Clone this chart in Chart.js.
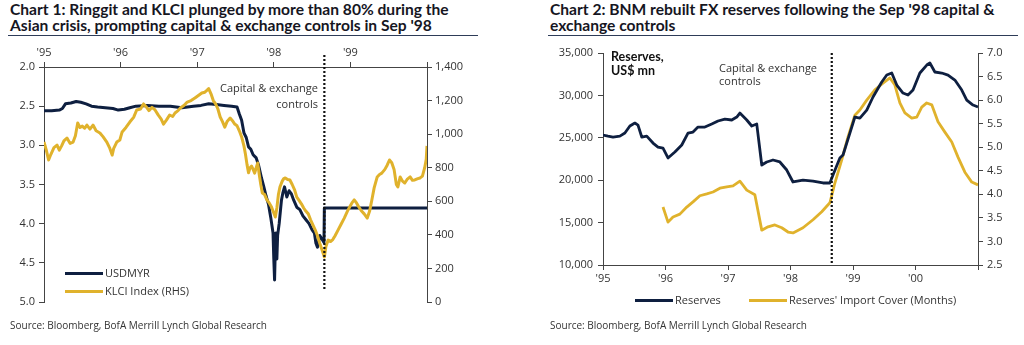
<!DOCTYPE html>
<html>
<head>
<meta charset="utf-8">
<script src="https://cdn.jsdelivr.net/npm/chart.js@4/dist/chart.umd.min.js"></script>
<style>
  body { margin: 0; background: #fff; width: 1024px; height: 345px; position: relative; overflow: hidden; font-family: 'Open Sans', sans-serif; color: #333; }
  .abs { position: absolute; white-space: nowrap; }
  .title { font-family: Lato, sans-serif; font-weight: bold; font-size: 15.6px; line-height: 15.5px; color: #16161f; }
  .rule { position: absolute; height: 1px; background: #2e3c58; }
  .note { font-size: 11px; line-height: 14px; color: #333; }
  .source { font-size: 10px; color: #333; }
  .swatch { position: absolute; height: 3px; }
  canvas { position: absolute; }
</style>
</head>
<body>
<div class="abs title" style="left:10px; top:2px;">Chart 1: Ringgit and KLCI plunged by more than 80% during the<br>Asian crisis, prompting capital &amp; exchange controls in Sep '98</div>
<div class="rule" style="left:8px; top:35px; width:470px;"></div>
<div class="abs title" style="left:550px; top:2px;">Chart 2: BNM rebuilt FX reserves following the Sep '98 capital &amp;<br>exchange controls</div>
<div class="rule" style="left:548px; top:35px; width:470px;"></div>

<div style="position:absolute; left:0; top:36px; width:490px; height:280px;"><canvas id="chart1"></canvas></div>
<div style="position:absolute; left:512px; top:36px; width:512px; height:280px;"><canvas id="chart2"></canvas></div>

<!-- chart 1 annotations and legend -->
<div class="abs note" style="left:200px; width:118px; top:80px; text-align:right; line-height:16px;">Capital &amp; exchange<br>controls</div>
<div class="swatch" style="left:65px; top:272px; width:38px; background:#0e1f40;"></div>
<div class="abs note" style="left:105px; top:266px;">USDMYR</div>
<div class="swatch" style="left:65px; top:290px; width:38px; background:#e0b22c;"></div>
<div class="abs note" style="left:105px; top:284px;">KLCI Index (RHS)</div>
<div class="abs source" style="left:10px; top:318px;">Source: Bloomberg, BofA Merrill Lynch Global Research</div>

<!-- chart 2 annotations and legend -->
<div class="abs" style="left:611px; top:50px; font-family:Lato, sans-serif; font-weight:bold; font-size:12.5px; line-height:14px; color:#111;">Reserves,<br>US$ mn</div>
<div class="abs note" style="left:719px; top:61px; line-height:13px;">Capital &amp; exchange<br>controls</div>
<div class="swatch" style="left:635px; top:299px; width:38px; background:#0e1f40;"></div>
<div class="abs note" style="left:675px; top:293px;">Reserves</div>
<div class="swatch" style="left:749px; top:299px; width:38px; background:#e0b22c;"></div>
<div class="abs note" style="left:789px; top:293px;">Reserves' Import Cover (Months)</div>
<div class="abs source" style="left:550px; top:318px;">Source: Bloomberg, BofA Merrill Lynch Global Research</div>

<script>
// Chart 1 data (years since Jan 1995)
const klciT = [0.00, 0.03, 0.06, 0.09, 0.13, 0.17, 0.20, 0.23, 0.26, 0.30, 0.34, 0.38, 0.41, 0.44, 0.47, 0.50, 0.53, 0.56, 0.60, 0.64, 0.68, 0.73, 0.77, 0.82, 0.86, 0.89, 0.91, 0.95, 0.99, 1.02, 1.07, 1.12, 1.17, 1.21, 1.26, 1.30, 1.33, 1.37, 1.41, 1.45, 1.49, 1.53, 1.56, 1.60, 1.64, 1.68, 1.71, 1.75, 1.78, 1.83, 1.87, 1.92, 1.97, 2.02, 2.06, 2.10, 2.13, 2.15, 2.18, 2.21, 2.24, 2.27, 2.30, 2.33, 2.36, 2.39, 2.43, 2.46, 2.49, 2.52, 2.55, 2.58, 2.61, 2.63, 2.65, 2.67, 2.69, 2.71, 2.73, 2.75, 2.77, 2.79, 2.81, 2.83, 2.85, 2.88, 2.91, 2.94, 2.97, 3.00, 3.02, 3.04, 3.06, 3.08, 3.11, 3.13, 3.15, 3.18, 3.21, 3.24, 3.27, 3.30, 3.33, 3.36, 3.39, 3.42, 3.45, 3.48, 3.51, 3.54, 3.57, 3.60, 3.63, 3.66, 3.68, 3.71, 3.74, 3.77, 3.80, 3.84, 3.88, 3.92, 3.96, 3.99, 4.02, 4.05, 4.08, 4.11, 4.14, 4.18, 4.22, 4.25, 4.28, 4.31, 4.35, 4.38, 4.41, 4.45, 4.48, 4.51, 4.54, 4.57, 4.60, 4.62, 4.65, 4.68, 4.71, 4.74, 4.78, 4.81, 4.84, 4.88, 4.91, 4.94, 4.97, 4.99, 5.00];
const klciValues = [953, 905, 846, 880, 920, 935, 905, 930, 960, 977, 945, 953, 990, 1066, 1040, 1048, 1035, 1054, 1030, 1054, 1020, 1007, 985, 953, 915, 875, 915, 953, 965, 1013, 1040, 1072, 1100, 1144, 1150, 1180, 1165, 1140, 1160, 1144, 1115, 1090, 1060, 1085, 1114, 1105, 1126, 1140, 1156, 1172, 1191, 1200, 1215, 1232, 1245, 1250, 1262, 1271, 1240, 1200, 1180, 1150, 1102, 1075, 1042, 1075, 1096, 1080, 1060, 1050, 1020, 983, 930, 880, 820, 770, 800, 810, 790, 768, 800, 828, 760, 700, 649, 640, 608, 590, 566, 530, 506, 560, 640, 685, 720, 735, 739, 730, 727, 700, 670, 625, 605, 585, 560, 540, 525, 490, 460, 430, 395, 350, 310, 268, 330, 369, 360, 372, 395, 430, 465, 500, 540, 566, 590, 608, 590, 566, 545, 525, 500, 540, 608, 680, 745, 760, 768, 790, 815, 846, 830, 790, 700, 685, 745, 720, 709, 730, 745, 725, 727, 735, 739, 750, 800, 850, 930];
const usdmyrT = [0.00, 0.10, 0.20, 0.24, 0.28, 0.35, 0.42, 0.48, 0.55, 0.62, 0.70, 0.80, 0.90, 0.97, 1.05, 1.12, 1.20, 1.35, 1.50, 1.65, 1.80, 1.95, 2.05, 2.15, 2.25, 2.35, 2.45, 2.52, 2.55, 2.58, 2.61, 2.64, 2.67, 2.70, 2.73, 2.77, 2.80, 2.84, 2.87, 2.90, 2.93, 2.96, 2.99, 3.00, 3.01, 3.02, 3.03, 3.04, 3.05, 3.07, 3.10, 3.12, 3.14, 3.17, 3.20, 3.23, 3.26, 3.30, 3.34, 3.38, 3.42, 3.46, 3.50, 3.53, 3.55, 3.57, 3.60, 3.63, 3.655, 3.66, 5.00];
const usdmyrValues = [2.56, 2.56, 2.55, 2.53, 2.47, 2.46, 2.44, 2.45, 2.47, 2.50, 2.51, 2.52, 2.53, 2.55, 2.54, 2.52, 2.50, 2.49, 2.50, 2.50, 2.52, 2.50, 2.49, 2.47, 2.48, 2.49, 2.50, 2.51, 2.60, 2.68, 2.84, 2.90, 3.02, 3.05, 3.12, 3.16, 3.25, 3.42, 3.53, 3.65, 3.75, 3.92, 4.12, 4.45, 4.72, 4.30, 4.12, 4.45, 4.15, 4.00, 3.70, 3.60, 3.53, 3.66, 3.58, 3.62, 3.70, 3.79, 3.82, 3.90, 3.95, 4.00, 4.08, 4.12, 4.25, 4.30, 4.15, 4.20, 4.24, 3.80, 3.80];
const usdmyrTicks = [2.0, 2.5, 3.0, 3.5, 4.0, 4.5, 5.0];
const klciTicks = [0, 200, 400, 600, 800, 1000, 1200, 1400];
const yearLabels1 = ["'95", "'96", "'97", "'98", "'99", ""];

// Chart 2 data (years since Jan 1995)
const reservesT = [0.00, 0.08, 0.16, 0.27, 0.35, 0.43, 0.51, 0.56, 0.62, 0.70, 0.80, 0.88, 0.96, 1.04, 1.15, 1.26, 1.36, 1.44, 1.52, 1.63, 1.74, 1.84, 1.95, 2.06, 2.14, 2.19, 2.30, 2.38, 2.46, 2.54, 2.62, 2.72, 2.83, 2.94, 3.04, 3.20, 3.36, 3.52, 3.63, 3.68, 3.79, 3.84, 3.95, 4.03, 4.11, 4.22, 4.32, 4.46, 4.54, 4.62, 4.70, 4.80, 4.88, 4.96, 5.07, 5.18, 5.23, 5.31, 5.42, 5.52, 5.63, 5.74, 5.82, 5.92, 6.00];
const reservesValues = [25330, 25200, 25090, 25200, 25560, 26390, 26740, 26500, 25090, 25200, 24380, 23910, 23790, 22620, 23320, 24150, 25560, 25680, 26270, 26270, 26620, 26980, 27210, 27100, 27450, 27920, 27100, 26390, 26620, 21790, 22150, 22380, 22150, 21200, 19790, 20020, 19900, 19670, 19670, 20610, 22620, 22970, 25560, 27450, 27330, 28270, 29810, 31580, 32400, 32640, 31220, 30280, 30040, 30630, 32640, 33580, 33820, 32760, 32640, 32400, 31810, 30630, 29450, 28860, 28630];
const coverT = [0.96, 1.04, 1.12, 1.23, 1.34, 1.44, 1.55, 1.66, 1.76, 1.87, 1.98, 2.08, 2.19, 2.30, 2.43, 2.54, 2.64, 2.75, 2.86, 2.96, 3.04, 3.20, 3.36, 3.50, 3.63, 3.71, 3.82, 3.92, 4.03, 4.11, 4.22, 4.35, 4.48, 4.59, 4.67, 4.75, 4.83, 4.94, 5.02, 5.10, 5.18, 5.26, 5.36, 5.47, 5.58, 5.68, 5.79, 5.90, 6.00];
const coverValues = [3.73, 3.41, 3.52, 3.58, 3.73, 3.84, 3.97, 4.01, 4.05, 4.13, 4.16, 4.18, 4.28, 4.09, 3.99, 3.24, 3.31, 3.35, 3.29, 3.20, 3.18, 3.29, 3.46, 3.63, 3.82, 4.24, 4.73, 5.22, 5.68, 5.79, 6.00, 6.22, 6.36, 6.47, 6.32, 5.94, 5.73, 5.62, 5.64, 5.85, 5.94, 5.90, 5.54, 5.32, 5.11, 4.79, 4.47, 4.26, 4.20];
const yearLabels2 = ["'95", "'96", "'97", "'98", "'99", "'00", ""];

const controlsDate = 1998.66;
const navy = '#0e1f40';
const gold = '#e0b22c';
const axisColor = '#444';

Chart.defaults.font.family = "'Open Sans', sans-serif";
Chart.defaults.font.size = 11;
Chart.defaults.color = '#333';
Chart.defaults.animation = false;

function toPoints(ts, vals) {
    return ts.map((t, i) => ({ x: 1995 + t, y: vals[i] }));
}

// dotted vertical line at the capital controls date
const controlsLine = {
    id: 'controlsLine',
    afterDatasetsDraw(chart, args, opts) {
        const x = chart.scales.x.getPixelForValue(controlsDate);
        const ctx = chart.ctx;
        ctx.save();
        ctx.strokeStyle = '#111';
        ctx.lineWidth = 2.2;
        ctx.setLineDash([2, 2]);
        ctx.beginPath();
        ctx.moveTo(x, chart.chartArea.top - opts.above);
        ctx.lineTo(x, chart.chartArea.bottom - opts.short);
        ctx.stroke();
        ctx.restore();
    }
};

function axisStyle(extra) {
    return Object.assign({
        grid: { drawOnChartArea: false, drawTicks: true, tickLength: 5, color: axisColor },
        border: { display: true, color: axisColor, width: 1 }
    }, extra);
}

new Chart(document.getElementById('chart1'), {
    type: 'line',
    data: {
        datasets: [
            { label: 'USDMYR', data: toPoints(usdmyrT, usdmyrValues), yAxisID: 'y', borderColor: navy, borderWidth: 3, order: 1 },
            { label: 'KLCI Index (RHS)', data: toPoints(klciT, klciValues), yAxisID: 'y1', borderColor: gold, borderWidth: 3, order: 0 }
        ]
    },
    options: {
        responsive: true,
        maintainAspectRatio: false,
        parsing: false,
        elements: { point: { radius: 0 }, line: { tension: 0, borderJoinStyle: 'round' } },
        layout: { padding: { bottom: 14 } },
        plugins: { legend: { display: false }, tooltip: { enabled: false }, controlsLine: { above: 12, short: 12 } },
        scales: {
            x: axisStyle({
                type: 'linear', position: 'top', min: 1995, max: 2000,
                afterFit: s => { s.height = 31; },
                afterBuildTicks: s => { s.ticks = yearLabels1.map((l, i) => ({ value: 1995 + i })); },
                ticks: { padding: 3, autoSkip: false, maxRotation: 0, callback: (v) => yearLabels1[Math.round(v) - 1995] }
            }),
            y: axisStyle({
                position: 'left', reverse: true, min: 2, max: 5,
                afterFit: s => { s.width = 44; },
                afterBuildTicks: s => { s.ticks = usdmyrTicks.map(v => ({ value: v })); },
                ticks: { padding: 4, callback: v => v.toFixed(1) }
            }),
            y1: axisStyle({
                position: 'right', min: 0, max: 1400,
                afterFit: s => { s.width = 63; },
                afterBuildTicks: s => { s.ticks = klciTicks.map(v => ({ value: v })); },
                ticks: { padding: 3, callback: v => v.toLocaleString('en-US') }
            })
        }
    },
    plugins: [controlsLine]
});

const reservesTicks = [10000, 15000, 20000, 25000, 30000, 35000];
const coverTicks = [2.5, 3.0, 3.5, 4.0, 4.5, 5.0, 5.5, 6.0, 6.5, 7.0];

new Chart(document.getElementById('chart2'), {
    type: 'line',
    data: {
        datasets: [
            { label: 'Reserves', data: toPoints(reservesT, reservesValues), yAxisID: 'y', borderColor: navy, borderWidth: 2.8 },
            { label: "Reserves' Import Cover (Months)", data: toPoints(coverT, coverValues), yAxisID: 'y1', borderColor: gold, borderWidth: 2.8 }
        ]
    },
    options: {
        responsive: true,
        maintainAspectRatio: false,
        parsing: false,
        elements: { point: { radius: 0 }, line: { tension: 0, borderJoinStyle: 'round' } },
        layout: { padding: { top: 17 } },
        plugins: { legend: { display: false }, tooltip: { enabled: false }, controlsLine: { above: 0, short: 0 } },
        scales: {
            x: axisStyle({
                type: 'linear', position: 'bottom', min: 1995, max: 2001,
                afterFit: s => { s.height = 51; },
                afterBuildTicks: s => { s.ticks = yearLabels2.map((l, i) => ({ value: 1995 + i })); },
                ticks: { padding: 2, autoSkip: false, maxRotation: 0, callback: (v) => yearLabels2[Math.round(v) - 1995] }
            }),
            y: axisStyle({
                position: 'left', min: 10000, max: 35000,
                afterFit: s => { s.width = 91; },
                afterBuildTicks: s => { s.ticks = reservesTicks.map(v => ({ value: v })); },
                ticks: { padding: 5, callback: v => v.toLocaleString('en-US') }
            }),
            y1: axisStyle({
                position: 'right', min: 2.5, max: 7,
                afterFit: s => { s.width = 46; },
                afterBuildTicks: s => { s.ticks = coverTicks.map(v => ({ value: v })); },
                ticks: { padding: 4, callback: v => v.toFixed(1) }
            })
        }
    },
    plugins: [controlsLine]
});
</script>
</body>
</html>
